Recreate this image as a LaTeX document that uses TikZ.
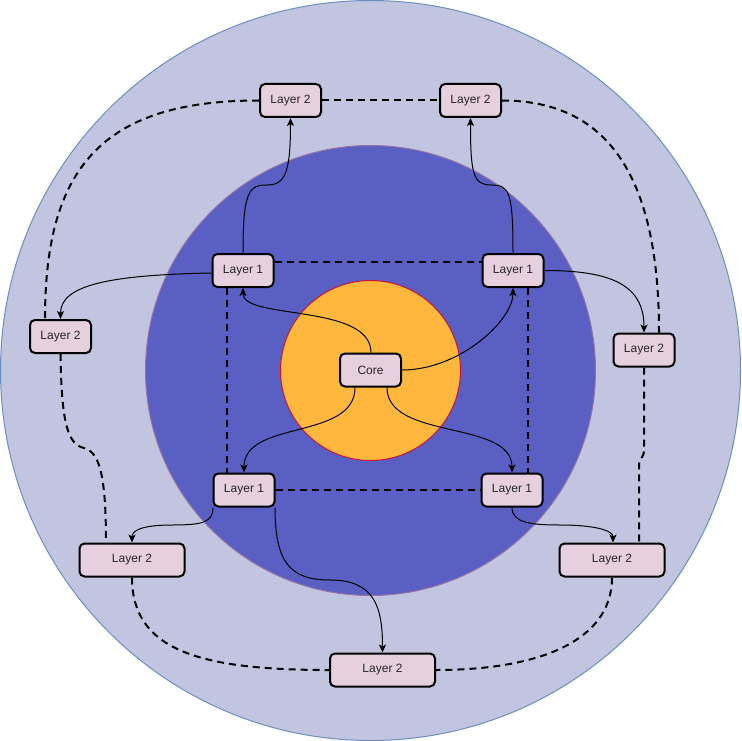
\documentclass[tikz,border=0pt]{standalone}
\usepackage{fontspec}
\setmainfont{Liberation Sans}
\usetikzlibrary{arrows.meta}
\definecolor{outerring}{RGB}{193, 197, 224}
\definecolor{outeredge}{RGB}{108, 142, 191}
\definecolor{midring}{RGB}{90, 95, 196}
\definecolor{midedge}{RGB}{150, 115, 166}
\definecolor{coreorange}{RGB}{255, 184, 61}
\definecolor{coreedge}{RGB}{200, 20, 60}
\definecolor{boxpink}{RGB}{230, 208, 222}

\begin{document}
\begin{tikzpicture}[x=1pt, y=-1pt,
      box/.style={draw=black, line width=2pt, rounded corners=5pt, fill=boxpink, minimum width=61pt, minimum height=33pt, inner sep=0pt, font=\fontsize{12}{14}\selectfont, text=black!85},
      wide/.style={box, minimum width=105pt},
      arr/.style={-{Stealth[length=8pt, width=7pt, inset=2pt]}, line width=1pt},
      dsh/.style={line width=2pt, dash pattern=on 7pt off 5pt}]
    \useasboundingbox (0,0) rectangle (741,741);
    \draw[fill=outerring, draw=outeredge, line width=1pt] (370.5,370.5) circle[radius=370pt];
    \draw[fill=midring, draw=midedge, line width=1pt] (370.5,370.5) circle[radius=225pt];
    \draw[fill=coreorange, draw=coreedge, line width=1pt] (370.5,370.5) circle[radius=90pt];
    \node[box] (core) at (370.5,370) {Core};
    \node[box] (l1a) at (243,270.5) {Layer 1};
    \node[box] (l1b) at (513,270.5) {Layer 1};
    \node[box] (l1c) at (244,490) {Layer 1};
    \node[box] (l1d) at (512,490) {Layer 1};
    \node[box] (l2a) at (290.5,100.5) {Layer 2};
    \node[box] (l2b) at (470.5,100.5) {Layer 2};
    \node[box] (l2c) at (60.5,336.5) {Layer 2};
    \node[box] (l2d) at (644,350) {Layer 2};
    \node[wide] (l2e) at (132,560) {Layer 2};
    \node[wide] (l2f) at (612,560) {Layer 2};
    \node[wide] (l2g) at (382.5,670) {Layer 2};
    \draw[arr] ([xshift=0.5pt]core.north) .. controls +(0,-49) and +(0,32) .. (l1a.south);
    \draw[arr] (core.east) .. controls +(58,0) and +(0,32) .. (l1b.south);
    \draw[arr] ([xshift=-15.5pt]core.south) .. controls +(0,53) and +(0,-53) .. (l1c.north);
    \draw[arr] ([xshift=16.5pt]core.south) .. controls +(0,53) and +(0,-53) .. (l1d.north);
    \draw[arr] (l1a.north) .. controls +(0,-62) and +(-18,0) .. (267,185) .. controls +(18,0) and +(0,55) .. (l2a.south);
    \draw[arr] (l1b.north) .. controls +(0,-62) and +(18,0) .. (491,185) .. controls +(-18,0) and +(0,55) .. (l2b.south);
    \draw[arr] ([yshift=-2.5pt]l1a.west) .. controls +(-102,2) and +(0,-34) .. (l2c.north);
    \draw[arr] (l1b.east) .. controls +(66,0) and +(0,-48) .. (l2d.north);
    \draw[arr] ([xshift=-31pt]l1c.south) .. controls +(0,15) and +(30,0) .. (172,525) .. controls +(-30,0) and +(0,-12) .. (l2e.north);
    \draw[arr] ([xshift=31pt]l1c.south) .. controls +(0,55) and +(-40,0) .. (330,580) .. controls +(45,0) and +(0,-45) .. (l2g.north);
    \draw[arr] (l1d.south) .. controls +(0,15) and +(-30,0) .. (560,525) .. controls +(35,0) and +(0,-12) .. ([xshift=1pt]l2f.north);
    \draw[dsh] ([yshift=8.5pt]l1a.east) -- ([yshift=8.5pt]l1b.west);
    \draw[dsh] ([xshift=-16pt]l1a.south) -- ([xshift=-17pt]l1c.north);
    \draw[dsh] ([xshift=15pt]l1b.south) -- ([xshift=16pt]l1d.north);
    \draw[dsh] (l1c.east) -- (l1d.west);
    \draw[dsh] (l2a.east) -- (l2b.west);
    \draw[dsh] (l2a.west) .. controls +(-159,0) and +(0,-149) .. ([xshift=-15.5pt]l2c.north);
    \draw[dsh] (l2b.east) .. controls +(108,0) and +(0,-153) .. ([xshift=15pt]l2d.north);
    \draw[dsh] (l2c.south) .. controls +(1,71) and +(-16,-4) .. (84,448) .. controls +(14,4) and +(0,-73) .. ([xshift=-26pt]l2e.north);
    \draw[dsh] (l2d.south) -- (644,450) .. controls +(0,8) and +(0,-8) .. (639,466) -- ([xshift=27pt]l2f.north);
    \draw[dsh] (l2e.south) .. controls +(0,73) and +(-129,0) .. (l2g.west);
    \draw[dsh] (l2f.south) .. controls +(0,63) and +(104,0) .. (l2g.east);
  \end{tikzpicture}
\end{document}
